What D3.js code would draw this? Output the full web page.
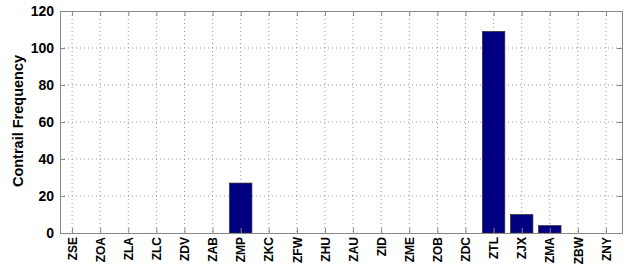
<!DOCTYPE html>
<meta charset="utf-8">
<head>
<style>
  body { margin: 0; background: #fff; }
  text { font-family: "Liberation Sans", Arial, sans-serif; font-weight: bold; fill: #000; }
  .grid line { stroke: #999; stroke-dasharray: 1,3; }
  .bar { fill: #000080; stroke: #333; stroke-width: 0.7; }
</style>
<script src="https://d3js.org/d3.v7.min.js"></script>
</head>
<body>
<svg id="chart" width="625" height="267"></svg>
<script>
var centers = ["ZSE","ZOA","ZLA","ZLC","ZDV","ZAB","ZMP","ZKC","ZFW","ZHU",
               "ZAU","ZID","ZME","ZOB","ZDC","ZTL","ZJX","ZMA","ZBW","ZNY"];
var counts = [0,0,0,0,0,0,27,0,0,0, 0,0,0,0,0,109,10,4,0,0];
var yTicks = [0,20,40,60,80,100,120];

var mLeft = 60, mRight = 622, mTop = 11, mBottom = 233;

var x = d3.scaleLinear().domain([0.57, 20.57]).range([mLeft, mRight]);
var y = d3.scaleLinear().domain([0, 120]).range([mBottom, mTop]);
var barW = x(0.8) - x(0);

var svg = d3.select("#chart");

// grid
var grid = svg.append("g").attr("class", "grid");
grid.selectAll(".gx").data(centers).enter().append("line")
    .attr("x1", function (d, i) { return x(i + 1) }).attr("x2", function (d, i) { return x(i + 1) })
    .attr("y1", mTop).attr("y2", mBottom);
grid.selectAll(".gy").data(yTicks.slice(1, -1)).enter().append("line")
    .attr("x1", mLeft).attr("x2", mRight)
    .attr("y1", function (d) { return y(d) }).attr("y2", function (d) { return y(d) });

// bars
var barData = counts.map(function (v, i) { return { i: i + 1, v: v } })
    .filter(function (d) { return d.v > 0 });
svg.selectAll(".bar").data(barData).enter().append("rect")
    .attr("class", "bar")
    .attr("x", function (d) { return x(d.i) - barW / 2 })
    .attr("width", barW)
    .attr("y", function (d) { return y(d.v) })
    .attr("height", function (d) { return y(0) - y(d.v) });

// axes
var yAxis = d3.axisLeft(y).tickValues(yTicks).tickSize(-5).tickPadding(6);
var yg = svg.append("g").attr("transform", "translate(" + mLeft + ",0)").call(yAxis);
yg.selectAll("text").style("font-size", "14px");

var yAxisR = d3.axisRight(y).tickValues(yTicks).tickSize(-5).tickFormat("");
svg.append("g").attr("transform", "translate(" + mRight + ",0)").call(yAxisR);

var xAxis = d3.axisBottom(x).tickValues(d3.range(1, 21)).tickSize(-5)
    .tickFormat(function (d) { return centers[d - 1] });
var xg = svg.append("g").attr("transform", "translate(0," + mBottom + ")").call(xAxis);
xg.selectAll("text")
    .style("font-size", "12px")
    .attr("transform", "rotate(-90)")
    .attr("text-anchor", "end")
    .attr("x", -4).attr("y", 0).attr("dy", "0.35em");

var xAxisT = d3.axisTop(x).tickValues(d3.range(1, 21)).tickSize(-5).tickFormat("");
svg.append("g").attr("transform", "translate(0," + mTop + ")").call(xAxisT);

svg.selectAll(".domain").attr("stroke", "#888");
svg.selectAll(".tick line").attr("stroke", "#888");

svg.append("text")
    .attr("transform", "translate(18," + ((mTop + mBottom) / 2 - 1) + ") rotate(-90)")
    .attr("text-anchor", "middle")
    .attr("dy", "0.35em")
    .style("font-size", "14.5px")
    .text("Contrail Frequency");
</script>
</body>
